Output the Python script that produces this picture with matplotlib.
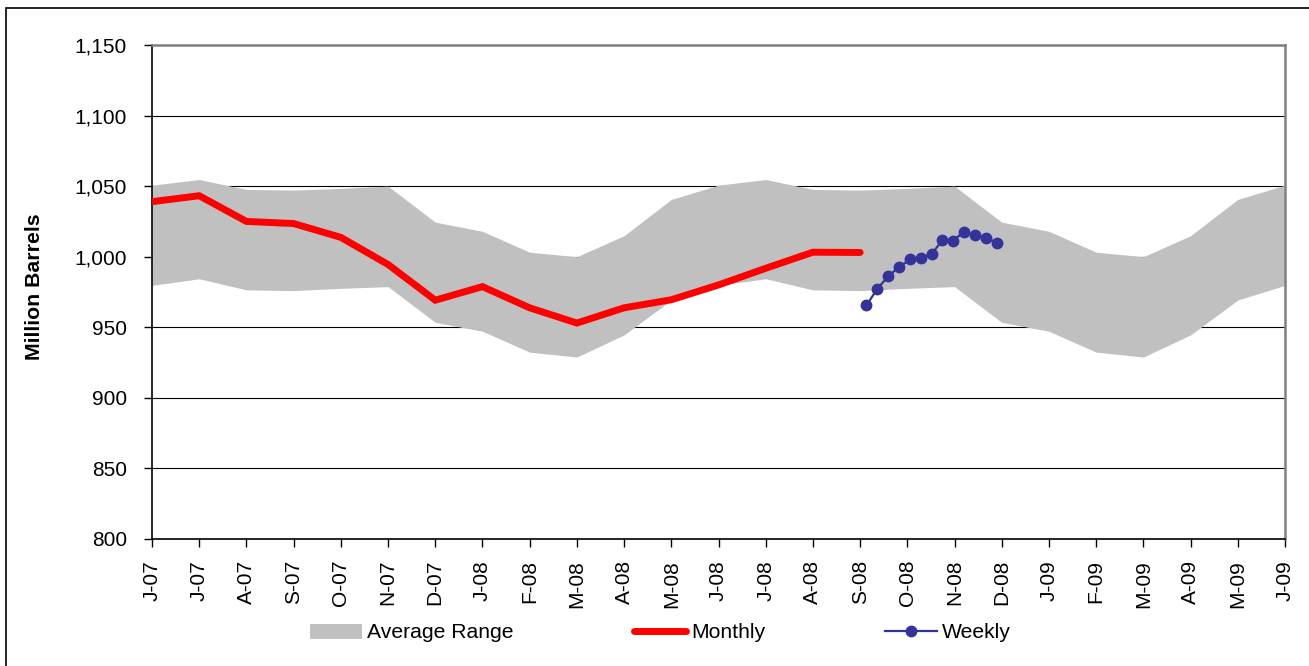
import calendar
import matplotlib
matplotlib.use('Agg')
import matplotlib.pyplot as plt
from matplotlib.patches import Patch, Rectangle
from matplotlib.lines import Line2D
from matplotlib.ticker import FuncFormatter, MultipleLocator

# ---- data ----
months = ['J-07', 'J-07', 'A-07', 'S-07', 'O-07', 'N-07', 'D-07', 'J-08', 'F-08',
          'M-08', 'A-08', 'M-08', 'J-08', 'J-08', 'A-08', 'S-08', 'O-08', 'N-08',
          'D-08', 'J-09', 'F-09', 'M-09', 'A-09', 'M-09', 'J-09']
first_year, first_month = 2007, 6

range_high = [1050.7, 1054.7, 1047.7, 1047.2, 1048.4, 1050.0, 1024.5, 1018.0, 1003.2,
              1000.0, 1014.9, 1040.6, 1050.7, 1054.7, 1047.7, 1047.2, 1048.4, 1050.0,
              1024.5, 1018.0, 1003.2, 1000.0, 1014.9, 1040.6, 1050.7]
range_low = [979.7, 984.4, 976.5, 976.0, 977.6, 978.8, 953.5, 947.2, 932.4,
             928.9, 944.6, 969.3, 979.7, 984.4, 976.5, 976.0, 977.6, 978.8,
             953.5, 947.2, 932.4, 928.9, 944.6, 969.3, 979.7]
monthly = [1039.0, 1043.2, 1025.0, 1023.5, 1013.7, 994.5, 969.2, 978.8, 963.8,
           953.0, 963.8, 969.5, 980.0, 991.8, 1003.2, 1003.0]

weekly_dates = ['2008-09-05', '2008-09-12', '2008-09-19', '2008-09-26', '2008-10-03',
                '2008-10-10', '2008-10-17', '2008-10-24', '2008-10-31', '2008-11-07',
                '2008-11-14', '2008-11-21', '2008-11-28']
weekly = [965.5, 977.4, 986.3, 992.9, 998.2, 999.2, 1002.0, 1011.6, 1011.4,
          1017.7, 1015.1, 1013.2, 1010.0]


def date_pos(s):
    y, m, d = (int(v) for v in s.split('-'))
    idx = (y - first_year) * 12 + (m - first_month)
    return idx + (d - 1) / calendar.monthrange(y, m)[1]


x_months = list(range(len(months)))
x_monthly = list(range(len(monthly)))
x_weekly = [date_pos(s) for s in weekly_dates]

# ---- figure ----
plt.rcParams['font.family'] = ['Liberation Sans', 'DejaVu Sans']
fig = plt.figure(figsize=(13.09, 6.66), dpi=100)
W, H = 1309, 666
ax = fig.add_axes([152 / W, 1 - 539 / H, (1285 - 152) / W, (539 - 45) / H])

ax.set_axisbelow(True)
ax.yaxis.grid(True, color='black', lw=0.8)
ax.fill_between(x_months, range_low, range_high, color='#c0c0c0', lw=0, zorder=1)
ax.plot(x_monthly, monthly, color='#ff0000', lw=5, solid_capstyle='round',
        solid_joinstyle='miter', zorder=3)
ax.plot(x_weekly, weekly, color='#333399', lw=1.6, marker='o', markersize=7.5,
        markerfacecolor='#333399', markeredgecolor='#333399', zorder=4)

ax.set_xlim(0, len(months) - 1)
ax.set_ylim(800, 1150)
ax.yaxis.set_major_locator(MultipleLocator(50))
ax.yaxis.set_major_formatter(FuncFormatter(lambda v, p: f'{v:,.0f}'))
ax.set_xticks(x_months)
ax.set_xticklabels(months, rotation=90)
ax.tick_params(axis='y', direction='out', length=6, width=1, pad=12, labelsize=15)
ax.tick_params(axis='x', direction='out', length=6, width=1, pad=9, labelsize=15)

for side in ('left', 'bottom'):
    ax.spines[side].set_color('black')
    ax.spines[side].set_linewidth(1.2)
for side in ('top', 'right'):
    ax.spines[side].set_color('#808080')
    ax.spines[side].set_linewidth(1.8)

fig.text(35 / W, 1 - 287 / H, 'Million Barrels', rotation=90, ha='center',
         va='center', fontsize=15.3, fontweight='bold')

handles = [Patch(facecolor='#c0c0c0', edgecolor='none'),
           Line2D([], [], color='#ff0000', lw=5, solid_capstyle='round'),
           Line2D([], [], color='#333399', lw=1.6, marker='o', markersize=7.5)]
labels = ['Average Range', 'Monthly', 'Weekly']
fig.legend(handles, labels, loc='center left', bbox_to_anchor=(310 / W, 1 - 633 / H),
           ncol=3, frameon=False, fontsize=15.2, handlelength=2.45,
           handletextpad=0.25, columnspacing=5.7, borderpad=0, borderaxespad=0)

fig.patches.append(Rectangle((6 / W, -0.05), 1.1, 1 - 8 / H + 0.05,
                             transform=fig.transFigure, fill=False,
                             edgecolor='black', lw=1.2))

fig.savefig('out.png', dpi=100)
